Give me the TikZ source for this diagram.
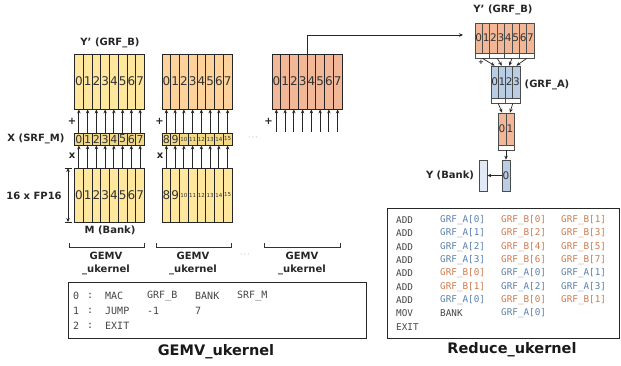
\documentclass[tikz,border=0pt]{standalone}
\usepackage{fontspec}
\setmainfont{DejaVu Sans}
\setmonofont{DejaVu Sans Mono}
\usetikzlibrary{arrows.meta}
\definecolor{ylw}{HTML}{FFE79E}
\definecolor{yX}{HTML}{F3D985}
\definecolor{org}{HTML}{FDD39B}
\definecolor{sal}{HTML}{F1B796}
\definecolor{blu}{HTML}{B9CDE5}
\definecolor{ybank}{HTML}{E1E9F4}
\definecolor{codeA}{HTML}{5B80AA}
\definecolor{codeB}{HTML}{CC7A4E}
\definecolor{codeK}{HTML}{454545}
\begin{document}
\begin{tikzpicture}[x=1pt,y=-1pt,
  cell/.style={draw=black!85,line width=0.8pt,inner sep=0pt,text=black!80,
    font=\fontsize{12}{12}\selectfont},
  rcell/.style={draw=black!70,line width=0.7pt,inner sep=0pt,text=black!80,
    font=\fontsize{10.5}{10.5}\selectfont},
  pbox/.style={draw=black!70,line width=0.7pt,fill=white,inner sep=0pt,minimum height=5pt},
  arr/.style={draw=black!85,line width=0.8pt,-{Stealth[length=4pt,width=3.5pt]}},
  lbl/.style={font=\bfseries\fontsize{10}{12}\selectfont,text=black!85,inner sep=0pt},
  title/.style={font=\bfseries\fontsize{14.5}{16}\selectfont,text=black!90,inner sep=0pt},
  code/.style={font=\ttfamily\fontsize{10}{12}\selectfont,text=codeK,anchor=west,inner sep=0pt},
  rcode/.style={font=\ttfamily\fontsize{9.3}{11}\selectfont,text=codeK,anchor=west,inner sep=0pt},
  op/.style={font=\bfseries\fontsize{10}{10}\selectfont,text=black!85,inner sep=0pt}]
\useasboundingbox (0,0) rectangle (621,365);

% ---------- column 1 ----------
\foreach \i in {0,...,7}{
  \node[cell,fill=ylw,minimum width=8.75pt,minimum height=55pt] (ya\i) at ({74.5+8.75*\i+4.375},81.5) {\i};
  \node[cell,fill=yX,minimum width=8.75pt,minimum height=12pt,font=\fontsize{11}{11}\selectfont] (xa\i) at ({74.5+8.75*\i+4.375},139) {\i};
  \node[cell,fill=ylw,minimum width=8.75pt,minimum height=54pt] (ma\i) at ({74.5+8.75*\i+4.375},195) {\i};
  \draw[arr] (ma\i.north) -- (xa\i.south);
  \draw[arr] (xa\i.north) -- (ya\i.south);
}
% ---------- column 2 ----------
\foreach \i in {0,...,7}{
  \node[cell,fill=org,minimum width=8.75pt,minimum height=55pt] (yb\i) at ({162+8.75*\i+4.375},81.5) {\i};
}
\foreach \i/\t in {0/8,1/9}{
  \node[cell,fill=yX,minimum width=8.75pt,minimum height=12pt,font=\fontsize{11}{11}\selectfont] (xb\i) at ({162+8.75*\i+4.375},139) {\t};
  \node[cell,fill=ylw,minimum width=8.75pt,minimum height=54pt] (mb\i) at ({162+8.75*\i+4.375},195) {\t};
}
\foreach \i/\t in {2/10,3/11,4/12,5/13,6/14,7/15}{
  \node[cell,fill=yX,minimum width=8.75pt,minimum height=12pt,font=\fontsize{5.5}{5.5}\selectfont] (xb\i) at ({162+8.75*\i+4.375},139) {\t};
  \node[cell,fill=ylw,minimum width=8.75pt,minimum height=54pt,font=\fontsize{5.5}{5.5}\selectfont] (mb\i) at ({162+8.75*\i+4.375},195) {\t};
}
\foreach \i in {0,...,7}{
  \draw[arr] (mb\i.north) -- (xb\i.south);
  \draw[arr] (xb\i.north) -- (yb\i.south);
}
% ---------- column 3 ----------
\foreach \i in {0,...,7}{
  \node[cell,fill=sal,minimum width=8.75pt,minimum height=55pt] (yc\i) at ({272+8.75*\i+4.375},81.5) {\i};
  \coordinate (cs\i) at ({272+8.75*\i+4.375},132);
  \draw[arr] (cs\i) -- (yc\i.south);
}

% ---------- labels left ----------
\node[lbl] (lY) at (110,43) {Y' (GRF\_B)};
\node[lbl] (lX) at (36,138.5) {X (SRF\_M)};
\node[lbl] (lF) at (34,196) {16 x FP16};
\node[lbl] (lM) at (110,230.5) {M (Bank)};
\node[op] (p1) at (72,121) {+};
\node[op] (p2) at (159.5,121) {+};
\node[op] (p3) at (268.5,121) {+};
\node[op] (m1) at (72,156) {x};
\node[op] (m2) at (160,156) {x};
\node[font=\fontsize{8}{8}\selectfont,text=black!60] (d1) at (253,138) {$\cdots$};
\node[font=\fontsize{8}{8}\selectfont,text=black!60] (d2) at (245,255) {$\cdots$};

% dimension
\coordinate (dt) at (68,168);
\coordinate (db) at (68,222);
\draw[line width=0.8pt,black!85,{Stealth[length=4pt,width=3.5pt]}-{Stealth[length=4pt,width=3.5pt]}] (dt) -- (db);
\draw[line width=0.8pt,black!85] ([xshift=-3.5pt]dt) -- ([xshift=3.5pt]dt);
\draw[line width=0.8pt,black!85] ([xshift=-3.5pt]db) -- ([xshift=3.5pt]db);

% brackets
\draw[line width=0.8pt,black!80] (69,243) |- (144,247) -- (144,243);
\draw[line width=0.8pt,black!80] (156,243) |- (231,247) -- (231,243);
\draw[line width=0.8pt,black!80] (264,243) |- (340,247) -- (340,243);
\node[lbl,align=center] (g1) at (106,263) {GEMV\\[1pt]\_ukernel};
\node[lbl,align=center] (g2) at (193,263) {GEMV\\[1pt]\_ukernel};
\node[lbl,align=center] (g3) at (302,263) {GEMV\\[1pt]\_ukernel};

% GEMV code box
\node[draw=black!85,line width=1pt,minimum width=298pt,minimum height=56pt,inner sep=0pt] (gbox) at (217,310) {};
\foreach \yy/\a/\b/\c/\d/\e in {296/0/MAC/GRF\_B/BANK/SRF\_M, 311/1/JUMP/-1/7/, 326/2/EXIT///}{
  \node[code] at (73,\yy) {\a};
  \node[code] at (87,\yy) {:};
  \node[code] at (105,\yy) {\b};
  \node[code] at (147,\yy) {\c};
  \node[code] at (195,\yy) {\d};
  \node[code] at (237,\yy) {\e};
}
\node[title] (t1) at (216,352) {GEMV\_ukernel};

% ---------- Reduce tree ----------
\node[lbl] (rY) at (503,10) {Y' (GRF\_B)};
\foreach \i in {0,...,7}{
  \node[rcell,fill=sal,minimum width=7.4pt,minimum height=30pt] (rb\i) at ({475+7.4*\i+3.7},38) {\i};
}
\foreach \j in {0,...,3}{
  \node[pbox,minimum width=14.8pt] (pb\j) at ({475+14.8*\j+7.4},55.5) {};
}
\foreach \i in {0,...,3}{
  \node[rcell,fill=blu,minimum width=7.25pt,minimum height=32pt] (ra\i) at ({491+7.25*\i+3.625},82) {\i};
}
\foreach \j in {0,...,3}{
  \draw[arr,line width=0.7pt] (pb\j.south) -- (ra\j.north);
}
\foreach \j in {0,1}{
  \node[pbox,minimum width=14.5pt] (pa\j) at ({491+14.5*\j+7.25},100.5) {};
}
\foreach \i in {0,1}{
  \node[rcell,fill=sal,minimum width=8pt,minimum height=32pt] (ro\i) at ({498+8*\i+4},129) {\i};
  \draw[arr,line width=0.7pt] (pa\i.south) -- (ro\i.north);
}
\node[pbox,minimum width=16pt] (po) at (506,147.5) {};
\node[rcell,fill=blu,minimum width=8pt,minimum height=31pt] (rz) at (506,175.5) {0};
\node[rcell,fill=ybank,minimum width=8pt,minimum height=31pt] (ybk) at (483,175.5) {};
\draw[arr,line width=0.7pt] (po.south) -- (rz.north);
\draw[arr,line width=0.7pt] (rz.west) -- (ybk.east);
\node[font=\bfseries\fontsize{7}{7}\selectfont,text=black!85] (rp) at (481,62) {+};
\node[lbl] (rA) at (547,85) {(GRF\_A)};
\node[lbl] (rB) at (450,175) {Y (Bank)};

% link arrow
\coordinate (ta) at (463,35);
\draw[arr] (yc3.north east) |- (ta);

% Reduce code box
\node[draw=black!85,line width=1pt,minimum width=232pt,minimum height=130pt,inner sep=0pt] (rbox) at (503,273) {};
\foreach \k/\a/\b/\c/\d/\cb/\cc/\cd in {
  0/ADD/GRF\_A[0]/GRF\_B[0]/GRF\_B[1]/codeA/codeB/codeB,
  1/ADD/GRF\_A[1]/GRF\_B[2]/GRF\_B[3]/codeA/codeB/codeB,
  2/ADD/GRF\_A[2]/GRF\_B[4]/GRF\_B[5]/codeA/codeB/codeB,
  3/ADD/GRF\_A[3]/GRF\_B[6]/GRF\_B[7]/codeA/codeB/codeB,
  4/ADD/GRF\_B[0]/GRF\_A[0]/GRF\_A[1]/codeB/codeA/codeA,
  5/ADD/GRF\_B[1]/GRF\_A[2]/GRF\_A[3]/codeB/codeA/codeA,
  6/ADD/GRF\_A[0]/GRF\_B[0]/GRF\_B[1]/codeA/codeB/codeB,
  7/MOV/BANK/GRF\_A[0]//codeK/codeA/codeK,
  8/EXIT////codeK/codeK/codeK}{
  \node[rcode] at (396,{220+13.35*\k}) {\a};
  \node[rcode,text=\cb] at (440,{220+13.35*\k}) {\b};
  \node[rcode,text=\cc] at (501,{220+13.35*\k}) {\c};
  \node[rcode,text=\cd] at (561,{220+13.35*\k}) {\d};
}
\node[title] (t2) at (512,350) {Reduce\_ukernel};
\end{tikzpicture}
\end{document}
